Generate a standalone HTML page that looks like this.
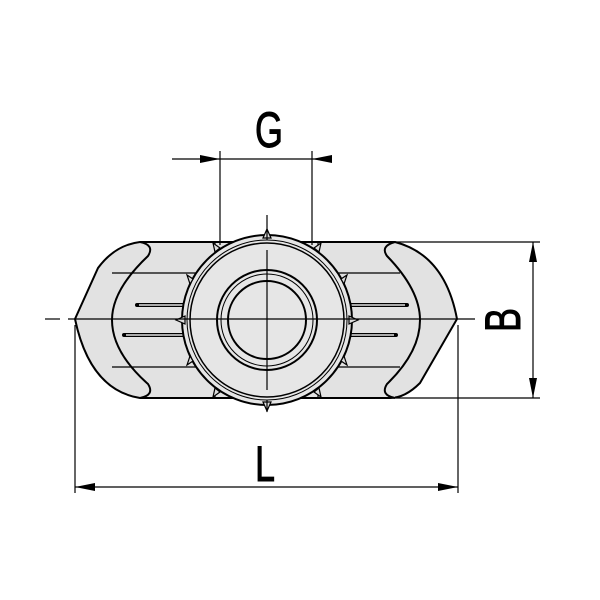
<!DOCTYPE html>
<html><head><style>body{margin:0;background:#fff}svg{display:block}</style></head><body>
<svg width="600" height="600" viewBox="0 0 600 600" xmlns="http://www.w3.org/2000/svg">
<defs>
<marker id="a" viewBox="0 0 20 8" refX="20" refY="4" markerWidth="20" markerHeight="8" markerUnits="userSpaceOnUse" orient="auto"><path d="M0,0 L20,4 L0,8z" fill="#000"/></marker>
</defs>
<g stroke="#000" fill="none" stroke-width="1.2">
<path d="M140,242 L395,242 Q445,255 457,319 L420,383 Q405,398 390,398 L140,398 Q90,390 75,319 L98,268 Q115,245 140,242Z" fill="#e2e2e2" stroke-width="2"/>
<path d="M140,242 Q155,245 148,256 Q112,290 112,320 Q112,352 148,384 Q155,395 140,398" fill="#e2e2e2" stroke-width="2"/>
<path d="M395,242 Q380,246 387,256 Q420,290 420,320 Q420,352 387,384 Q380,395 395,398" fill="#e2e2e2" stroke-width="2"/>
<line x1="112" y1="273" x2="200" y2="273"/><line x1="112" y1="367" x2="200" y2="367"/>
<line x1="335" y1="273" x2="400" y2="273"/><line x1="335" y1="367" x2="400" y2="367"/>
<g stroke-width="4" stroke-linecap="round"><line x1="137" y1="305" x2="185" y2="305"/><line x1="124" y1="335" x2="185" y2="335"/>
<line x1="350" y1="305" x2="407" y2="305"/><line x1="350" y1="335" x2="396" y2="335"/></g>
<g stroke="#e2e2e2" stroke-width="1.5"><line x1="139" y1="305" x2="185" y2="305"/><line x1="126" y1="335" x2="185" y2="335"/>
<line x1="350" y1="305" x2="405" y2="305"/><line x1="350" y1="335" x2="394" y2="335"/></g>
<line x1="215" y1="242" x2="215" y2="398"/><line x1="318" y1="242" x2="318" y2="398"/>
<circle cx="267" cy="320" r="85" fill="#e6e6e6" stroke-width="2"/>
<circle cx="267" cy="320" r="80" stroke-width="1"/>
<circle cx="267" cy="320" r="77" stroke-width="1.5"/>
<g fill="#ddd" stroke-width="1.2">
<path d="M263,238 L267,229 L271,238Z"/><path d="M263,402 L267,411 L271,402Z"/>
<path d="M185,316 L176,320 L185,324Z"/><path d="M349,316 L358,320 L349,324Z"/>
<path d="M220,248 L213,243 L215,252Z"/><path d="M314,248 L321,243 L319,252Z"/>
<path d="M220,392 L213,397 L215,388Z"/><path d="M314,392 L321,397 L319,388Z"/>
<path d="M193,279 L187,275 L190,284Z"/><path d="M341,279 L347,275 L344,284Z"/>
<path d="M193,361 L187,365 L190,356Z"/><path d="M341,361 L347,365 L344,356Z"/>
</g>
<circle cx="267" cy="320" r="50" stroke-width="2"/>
<circle cx="267" cy="320" r="46" stroke-width="1"/>
<circle cx="267" cy="320" r="39" stroke-width="2" fill="#e6e6e6"/>
<line x1="45" y1="319" x2="60" y2="319"/><line x1="68" y1="319" x2="475" y2="319"/>
<line x1="267" y1="215" x2="267" y2="240"/><line x1="267" y1="250" x2="267" y2="390"/><line x1="267" y1="400" x2="267" y2="412"/>
<line x1="220" y1="151" x2="220" y2="245"/><line x1="312" y1="151" x2="312" y2="245"/>
<line x1="172" y1="159" x2="220" y2="159" marker-end="url(#a)"/>
<line x1="312" y1="159" x2="220" y2="159"/>
<line x1="332" y1="159" x2="312" y2="159" marker-end="url(#a)"/>
<line x1="75" y1="325" x2="75" y2="493"/><line x1="458" y1="325" x2="458" y2="493"/>
<line x1="266" y1="487" x2="75" y2="487" marker-end="url(#a)"/>
<line x1="266" y1="487" x2="458" y2="487" marker-end="url(#a)"/>
<line x1="395" y1="242" x2="540" y2="242"/><line x1="395" y1="398" x2="540" y2="398"/>
<line x1="533" y1="320" x2="533" y2="242" marker-end="url(#a)"/>
<line x1="533" y1="320" x2="533" y2="398" marker-end="url(#a)"/>
</g>
<g font-family="Liberation Sans, sans-serif" font-size="50" fill="#000" stroke="#000" stroke-width="1" text-anchor="middle">
<text transform="translate(269,147) scale(0.72,1)">G</text>
<text transform="translate(265,481) scale(0.72,1)">L</text>
<text transform="translate(520,320) rotate(-90) scale(0.72,1)">B</text>
</g>
</svg>
</body></html>
